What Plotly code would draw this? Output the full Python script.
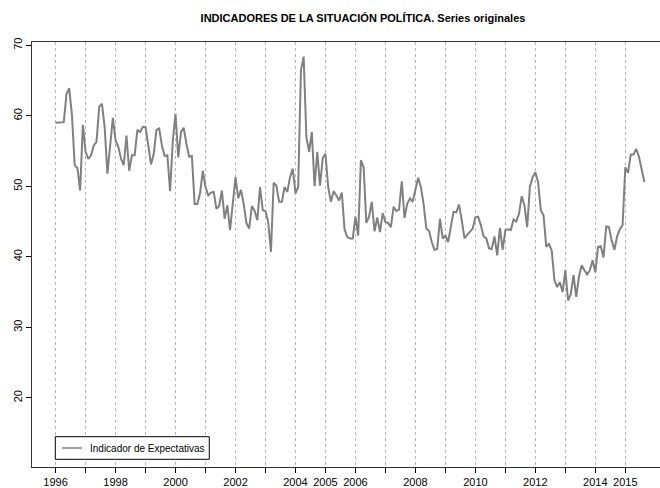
import plotly.graph_objects as go

# --- data (11 barómetros per year) ---
start_year = 1996
per_year = 11
indicador = [
    59.0, 59.0, 59.0, 59.1, 63.1, 63.9, 60.1, 53.0, 52.6, 49.4, 58.7,   # 1996
    54.9, 53.9, 54.4, 55.8, 56.3, 61.3, 61.7, 58.4, 51.8, 55.7, 59.7,   # 1997
    56.5, 55.6, 53.9, 53.0, 57.2, 52.2, 54.4, 54.4, 58.0, 57.7, 58.4,   # 1998
    58.4, 55.8, 53.1, 54.6, 58.0, 58.2, 55.8, 54.3, 54.4, 49.3, 56.5,   # 1999
    60.3, 54.1, 57.7, 58.3, 56.0, 54.2, 54.3, 47.5, 47.5, 49.0, 52.2,   # 2000
    49.9, 48.7, 49.1, 49.2, 46.8, 47.2, 49.4, 45.4, 47.3, 43.8, 47.8,   # 2001
    51.3, 48.3, 49.5, 47.5, 44.8, 44.0, 47.2, 46.5, 45.2, 49.9, 46.6,   # 2002
    46.5, 44.9, 40.7, 50.5, 50.1, 47.8, 47.8, 49.9, 49.2, 51.3, 52.5,   # 2003
    49.0, 49.9, 66.5, 68.4, 57.0, 54.9, 57.7, 50.0, 54.9, 50.1, 54.0,   # 2004
    54.6, 49.9, 47.8, 49.3, 48.7, 48.0, 49.1, 43.9, 42.8, 42.6, 42.6,   # 2005
    45.7, 43.0, 53.7, 52.7, 44.8, 45.7, 47.8, 43.6, 45.6, 43.5, 46.2,   # 2006
    44.9, 44.8, 44.2, 47.1, 46.5, 46.7, 50.7, 45.5, 47.5, 48.3, 47.8,   # 2007
    49.5, 51.2, 49.9, 47.5, 44.0, 43.7, 42.1, 41.0, 41.1, 45.4, 42.6,   # 2008
    43.0, 42.1, 44.0, 46.4, 46.3, 47.4, 45.2, 42.6, 43.1, 43.6, 44.0,   # 2009
    45.6, 45.7, 44.5, 42.9, 42.6, 41.2, 41.1, 42.9, 40.2, 44.1, 41.0,   # 2010
    43.8, 43.9, 43.8, 45.3, 45.0, 46.1, 48.6, 47.3, 44.2, 49.9, 51.3,   # 2011
    52.0, 50.6, 46.6, 45.9, 41.4, 41.8, 40.9, 36.7, 35.7, 36.4, 35.0,   # 2012
    38.1, 33.8, 34.7, 37.4, 34.3, 37.2, 38.8, 38.1, 37.5, 38.1, 39.5,   # 2013
    37.8, 41.4, 41.5, 39.9, 44.3, 44.2, 42.3, 41.0, 42.9, 43.9, 44.5,   # 2014
    52.7, 51.9, 54.5, 54.5, 55.3, 54.2, 52.4, 50.6,                     # 2015
]
tiempo = [start_year + i / per_year for i in range(len(indicador))]

x_ticks = list(range(1996, 2016))
x_labels_shown = [1996, 1998, 2000, 2002, 2004, 2005, 2006, 2008, 2010, 2012, 2014, 2015]
x_ticktext = [str(y) if y in x_labels_shown else "" for y in x_ticks]
y_ticks = [20, 30, 40, 50, 60, 70]

title_text = "INDICADORES DE LA SITUACIÓN POLÍTICA. Series originales"
series_name = "Indicador de Expectativas"

FONT = "Liberation Sans, Arial, sans-serif"
LINE_COLOR = "#808080"

fig = go.Figure()
fig.add_trace(go.Scatter(
    x=tiempo, y=indicador, mode="lines", name=series_name,
    line=dict(color=LINE_COLOR, width=2), showlegend=False,
))

# legend drawn as a small boxed key (as in the R base-graphics original)
fig.add_shape(type="rect", xref="paper", yref="paper",
              x0=0.0371, x1=0.2823, y0=0.0181, y1=0.0713,
              line=dict(color="black", width=1), fillcolor="white", layer="above")
fig.add_shape(type="line", xref="paper", yref="paper",
              x0=0.0478, x1=0.0796, y0=0.0447, y1=0.0447,
              line=dict(color=LINE_COLOR, width=1.5), layer="above")
fig.add_annotation(text=series_name, xref="paper", yref="paper",
                   x=0.0892, y=0.0447, xanchor="left", yanchor="middle",
                   showarrow=False, font=dict(family=FONT, size=10, color="black"))

fig.update_layout(
    width=660, height=488,
    margin=dict(l=32, r=0, t=42, b=21),
    paper_bgcolor="white", plot_bgcolor="white",
    font=dict(family=FONT, size=11, color="black"),
    title=dict(text="<b>" + title_text + "</b>", x=0.55, xanchor="center",
               y=0.963, yanchor="middle", font=dict(family=FONT, size=11, color="black")),
    showlegend=False,
)

fig.update_xaxes(
    range=[1995.213, 2016.157],
    tickmode="array", tickvals=x_ticks, ticktext=x_ticktext,
    ticks="outside", ticklen=5, tickcolor="black", tickwidth=1,
    showline=True, linecolor="#333333", linewidth=1, mirror=True,
    showgrid=True, gridcolor="#b4b4b4", griddash="3px,3px", gridwidth=1,
    zeroline=False, tickfont=dict(size=11),
)
fig.update_yaxes(
    range=[10.18, 70.47],
    tickmode="array", tickvals=y_ticks, ticktext=[str(v) for v in y_ticks],
    ticks="outside", ticklen=5, tickcolor="black", tickwidth=1,
    tickangle=-90,
    showline=True, linecolor="#333333", linewidth=1, mirror=False,
    showgrid=False, zeroline=False, tickfont=dict(size=11),
)

fig.write_html("out.html", config={"displayModeBar": False},
               post_script="document.body.style.margin='0px';")
